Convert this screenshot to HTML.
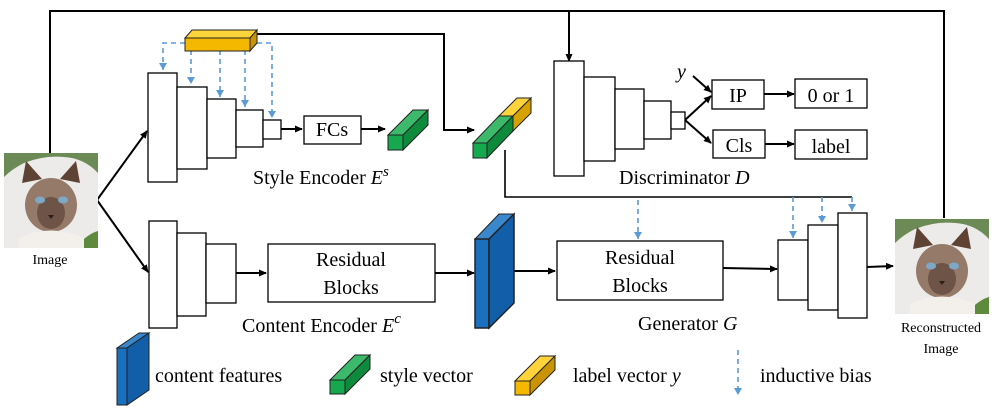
<!DOCTYPE html>
<html><head><meta charset="utf-8"><style>
body{margin:0;background:#fff;}
svg{display:block;font-family:"Liberation Serif",serif;}
</style></head><body>
<svg width="994" height="416" viewBox="0 0 994 416" xmlns="http://www.w3.org/2000/svg">
<defs>
<marker id="a" markerWidth="8" markerHeight="8" refX="7" refY="4" orient="auto" markerUnits="userSpaceOnUse"><path d="M0,0.5 L8,4 L0,7.5 z" fill="#000"/></marker>
<marker id="d" markerWidth="9" markerHeight="9" refX="4.5" refY="8" markerUnits="userSpaceOnUse"><path d="M0.5,1 L8.5,1 L4.5,8 z" fill="#5b9bd5"/></marker>
<g id="cat">
<rect x="0" y="0" width="94" height="95" fill="#ecebea"/>
<path d="M0,0 H94 V20 Q80,5 60,4 Q40,2 20,10 Q8,16 0,24 z" fill="#6c8a55"/>
<path d="M70,95 Q85,80 94,78 V95 z" fill="#5d8a3c"/>
<ellipse cx="47" cy="52" rx="26" ry="27" fill="#957a69"/>
<path d="M18,30 L22,8 L38,26 z" fill="#5e4334"/>
<path d="M76,30 L72,8 L56,26 z" fill="#5e4334"/>
<ellipse cx="47" cy="60" rx="14" ry="16" fill="#6e5446"/>
<ellipse cx="36" cy="47" rx="5" ry="3.5" fill="#7da8c8"/>
<ellipse cx="59" cy="47" rx="5" ry="3.5" fill="#7da8c8"/>
<path d="M44,62 L50,62 L47,66 z" fill="#2a1f1a"/>
<path d="M15,85 Q47,70 80,85 V95 H15 z" fill="#f3f0ec"/>
</g>
</defs>
<g fill="none" stroke="#000" stroke-width="2">
<polyline points="50,155 50,11 944,11 944,218"/>
<line x1="569" y1="11" x2="569" y2="61" marker-end="url(#a)"/>
<polyline points="257,34 444,34 444,130 474,130" marker-end="url(#a)"/>
<polyline points="505,150 505,197 852,197" stroke-width="1.6"/>
<line x1="97" y1="200" x2="147" y2="131" marker-end="url(#a)"/>
<line x1="97" y1="200" x2="148" y2="272" marker-end="url(#a)"/>
<line x1="281" y1="129" x2="302" y2="129" marker-end="url(#a)"/>
<line x1="361" y1="129" x2="385" y2="129" marker-end="url(#a)"/>
<line x1="685" y1="120" x2="711" y2="96" marker-end="url(#a)"/>
<line x1="685" y1="120" x2="711" y2="143" marker-end="url(#a)"/>
<line x1="693" y1="76" x2="711" y2="92" marker-end="url(#a)"/>
<line x1="764" y1="94" x2="794" y2="94" marker-end="url(#a)"/>
<line x1="765" y1="144" x2="794" y2="144" marker-end="url(#a)"/>
<line x1="236" y1="273" x2="266" y2="273" marker-end="url(#a)"/>
<line x1="435" y1="273" x2="474" y2="273" marker-end="url(#a)"/>
<line x1="502" y1="271" x2="555" y2="271" marker-end="url(#a)"/>
<line x1="723" y1="268" x2="777" y2="269" marker-end="url(#a)"/>
<line x1="867" y1="267" x2="893" y2="266" marker-end="url(#a)"/>
</g>
<g fill="#fff" stroke="#000" stroke-width="1.3">
<rect x="148" y="73" width="29" height="109"/><rect x="177" y="87" width="30" height="82"/><rect x="207" y="99" width="29" height="59"/><rect x="236" y="110" width="27" height="37"/><rect x="263" y="120" width="18" height="19"/>
<rect x="304" y="116" width="57" height="28"/>
<rect x="554" y="61" width="30" height="115"/><rect x="584" y="77" width="31" height="84"/><rect x="615" y="89" width="29" height="60"/><rect x="644" y="101" width="27" height="38"/><rect x="671" y="112" width="14" height="17"/>
<rect x="712" y="80" width="52" height="29"/><rect x="795" y="79" width="72" height="29"/><rect x="713" y="130" width="52" height="28"/><rect x="795" y="130" width="72" height="29"/>
<rect x="149" y="221" width="28" height="107"/><rect x="177" y="233" width="29" height="83"/><rect x="206" y="244" width="30" height="59"/>
<rect x="268" y="244" width="167" height="58"/>
<rect x="557" y="241" width="166" height="59"/>
<rect x="778" y="240" width="30" height="60"/><rect x="808" y="225" width="30" height="85"/><rect x="838" y="213" width="29" height="105"/>
</g>
<g fill="none" stroke="#5b9bd5" stroke-width="1.6" stroke-dasharray="5,4">
<polyline points="185,43 163,43 163,70" marker-end="url(#d)"/>
<line x1="191" y1="50" x2="191" y2="84" marker-end="url(#d)"/>
<line x1="220" y1="50" x2="220" y2="97" marker-end="url(#d)"/>
<line x1="245" y1="50" x2="245" y2="107" marker-end="url(#d)"/>
<polyline points="257,43 272,43 272,118" marker-end="url(#d)"/>
<line x1="638" y1="200" x2="638" y2="239" marker-end="url(#d)"/>
<line x1="793" y1="197" x2="793" y2="238" marker-end="url(#d)"/>
<line x1="822" y1="197" x2="822" y2="223" marker-end="url(#d)"/>
<line x1="852" y1="197" x2="852" y2="211" marker-end="url(#d)"/>
<line x1="738" y1="350" x2="738" y2="395" marker-end="url(#d)"/>
</g>
<g stroke="#222" stroke-width="1">
<polygon points="185,38 192,30 257,30 250,38" fill="#ffd43b"/><rect x="185" y="38" width="65" height="13" fill="#f5b800"/><polygon points="250,38 257,30 257,43 250,51" fill="#c99400"/>
<polygon points="388,135 413,110 428,110 403,135" fill="#3cb96a"/><rect x="388" y="135" width="15" height="15" fill="#16a84e"/><polygon points="403,135 428,110 428,125 403,150" fill="#0d8a3c"/>
<!-- combined -->
<polygon points="499,116 517,98 531,98 513,116" fill="#ffd43b"/><polygon points="513,116 531,98 531,113 513,131" fill="#d6a200"/>
<polygon points="473,143 499,116 513,116 487,143" fill="#3cb96a"/><rect x="473" y="143" width="14" height="15" fill="#16a84e"/><polygon points="487,143 513,116 513,131 487,158" fill="#0d8a3c"/>
<!-- blue -->
<polygon points="475,239 499,214 514,214 489,239" fill="#3a87cc"/><rect x="475" y="239" width="14" height="89" fill="#1a6fbf" stroke-width="1.5"/><polygon points="489,239 514,214 514,303 489,328" fill="#125ea8" stroke-width="1.5"/>
<!-- legend -->
<polygon points="117,348 139,333 149,333 127,348" fill="#3a87cc"/><rect x="117" y="348" width="10" height="57" fill="#1a6fbf"/><polygon points="127,348 149,333 149,390 127,405" fill="#125ea8"/>
<polygon points="330,380 355,355 370,355 345,380" fill="#3cb96a"/><rect x="330" y="380" width="15" height="14" fill="#16a84e"/><polygon points="345,380 370,355 370,369 345,394" fill="#0d8a3c"/>
<polygon points="515,381 540,356 555,356 530,381" fill="#ffd43b"/><rect x="515" y="381" width="15" height="14" fill="#f5b800"/><polygon points="530,381 555,356 555,370 530,395" fill="#c99400"/>
</g>
<use href="#cat" x="4" y="153"/>
<use href="#cat" x="895" y="219"/>
<g font-size="20" fill="#000">
<text x="332" y="136" text-anchor="middle">FCs</text>
<text x="738" y="102" text-anchor="middle">IP</text>
<text x="831" y="102" text-anchor="middle">0 or 1</text>
<text x="739" y="152" text-anchor="middle">Cls</text>
<text x="831" y="153" text-anchor="middle">label</text>
<text x="677" y="78" font-style="italic">y</text>
<text x="253" y="184">Style Encoder <tspan font-style="italic">E</tspan><tspan font-style="italic" dy="-8" font-size="15">s</tspan></text>
<text x="619" y="184">Discriminator <tspan font-style="italic">D</tspan></text>
<text x="351" y="266" text-anchor="middle">Residual</text>
<text x="351" y="294" text-anchor="middle">Blocks</text>
<text x="640" y="264" text-anchor="middle">Residual</text>
<text x="640" y="292" text-anchor="middle">Blocks</text>
<text x="242" y="332">Content Encoder <tspan font-style="italic">E</tspan><tspan font-style="italic" dy="-9" font-size="15">c</tspan></text>
<text x="638" y="330">Generator <tspan font-style="italic">G</tspan></text>
<text x="155" y="382">content features</text>
<text x="380" y="382">style vector</text>
<text x="573" y="382">label vector <tspan font-style="italic">y</tspan></text>
<text x="760" y="382">inductive bias</text>
</g>
<g font-size="14" fill="#000" text-anchor="middle">
<text x="50" y="264">Image</text>
<text x="941" y="332">Reconstructed</text>
<text x="941" y="353">Image</text>
</g>
</svg>
</body></html>
